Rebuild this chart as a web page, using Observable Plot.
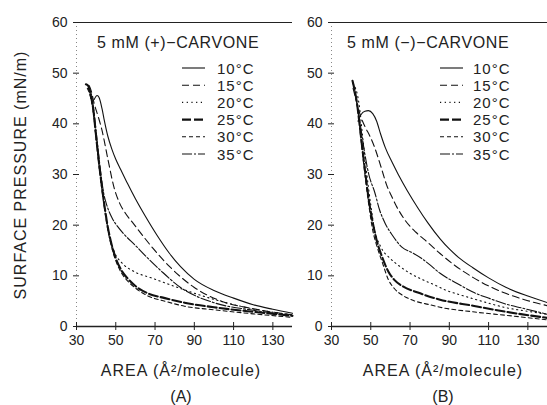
<!DOCTYPE html>
<html><head><meta charset="utf-8">
<script src="https://cdn.jsdelivr.net/npm/d3@7"></script>
<script src="https://cdn.jsdelivr.net/npm/@observablehq/plot@0.6"></script>
<style>
body{margin:0;background:#fff}
#wrap{position:relative;width:547px;height:405px;overflow:hidden;background:#fff}
#wrap svg{position:absolute;top:0;max-width:none}
</style>
</head><body><div id="wrap"></div>
<script>
// ---- data: [area (Å²/molecule), surface pressure (mN/m)] ----
const temps = ["10°C", "15°C", "20°C", "25°C", "30°C", "35°C"];
const xTicks = [30, 50, 70, 90, 110, 130];
const yTicks = [0, 10, 20, 30, 40, 50, 60];

// Panel A: 5 mM (+)-carvone
const A10 = [[39,44.8],[40.5,45.6],[41.5,45.2],[43,43],[44,41],[46,37.5],[48,35],[50,33],[52.5,31],[56,28.2],[60,25.2],[65,21.8],[71,18],[77,14.6],[83,11.8],[90,9.3],[100,7.1],[110,5.6],[120,4.3],[130,3.4],[140,2.6]];
const A15 = [[36.5,47.5],[37.5,46.5],[39,44],[41,41.5],[43,38.7],[46,33],[49,27.6],[52,24.3],[55,22.3],[59,20.3],[64,17.8],[69,15.4],[78,11.6],[90,7.7],[103,5.1],[120,3.5],[140,2.3]];
const A20 = [[36,47],[38,44],[40,37],[42,30],[44,24],[46,19.5],[49,15],[53,12.6],[58.6,11],[68.8,9.5],[83,7.5],[97,5.7],[117,3.7],[140,2.3]];
const A25 = [[34.8,47.8],[36,47.5],[37,46],[38.5,43],[40,37.5],[42,30.5],[44,24.5],[46,19.5],[48,16],[50,13.5],[53,11],[56,9.5],[60,8],[66,6.6],[75,5.6],[85,4.7],[100,3.8],[120,2.9],[140,2.1]];
const A30 = [[35.5,47],[37,45.5],[38.5,42.5],[40,37],[42,30],[44,24],[46,19],[48,15.5],[50,13],[53,10.5],[56,9],[60,7.6],[66,6.1],[75,5],[85,4],[100,3.3],[120,2.5],[140,1.8]];
const A35 = [[36,47.5],[38,45],[40,38.5],[42,31.5],[44,26],[45,24.5],[48,21.5],[51,19.7],[54,18.3],[60,16],[66,13.6],[73,11],[83,7.7],[100,4.7],[120,3.2],[140,2.2]];

// Panel B: 5 mM (-)-carvone
const B10 = [[43.5,40.5],[45,41.8],[47,42.5],[48.8,42.6],[51,42],[53,40.5],[55,38],[57.4,35.3],[61,32.3],[64,30],[68.6,26.8],[74,23.4],[79,20.5],[85.3,17.3],[90,15.3],[94.5,13.7],[102,11.6],[110,9.6],[119,7.7],[130,6],[140,4.7]];
const B15 = [[41,47],[43,44],[45,41.3],[47,39.5],[50,37.2],[52,35.3],[54,33],[56,30.5],[58,28],[60.5,25.8],[63,23.8],[67.6,20.9],[73,18.6],[79,16.6],[85.3,14.4],[93,12],[102,9.7],[110,8],[119,6.5],[130,5.1],[140,4.1]];
const B20 = [[41,48],[44,44],[46,37],[48,30],[50,24],[52,19],[55,15.8],[60,13.4],[65,11.8],[70,10.5],[76,9.3],[82,8.3],[88,7.2],[95,6.3],[102,5.5],[110,4.6],[119,3.7],[130,3],[140,2.4]];
const B25 = [[40.7,48.5],[43,44],[45,37.5],[47,31],[49,25],[51,20.5],[53,17],[56,13.5],[59,10.8],[62,9.2],[66,8],[74,6.7],[85.3,5.3],[102,4.1],[119,2.9],[140,1.7]];
const B30 = [[41,48],[43,44],[45,37],[47,30],[49,24],[51,19],[53,16],[56,12.5],[59,9.2],[62,7.5],[66,6.2],[72,5.1],[80,4.3],[85.3,3.8],[102,2.9],[119,2.2],[140,1.3]];
const B35 = [[42,46],[43,44],[45,39],[47,34],[49,30],[52,26.5],[54.5,23],[57.4,20.3],[61,18],[66,15.6],[71,14.6],[76,13.4],[80,12.2],[85.3,10.5],[94,8.5],[102,6.8],[110.7,5.5],[119,4.4],[127.5,3.6],[140,2.4]];

// ---- styles ----
const dashes = [null, "7,4", "1.2,3.5", "9,3", "4,3", "10,2,2,2"];
const widths = [1.1, 1.1, 1.1, 2.1, 1.1, 1.1];
const FONT = "Liberation Sans, Arial, sans-serif";

function panel({series, left, width, marginLeft, title, titleX, legLineX, legLabelX, xLabelX, tag, yLabel}) {
  const plot = Plot.plot({
    width, height: 405,
    marginLeft, marginRight: 0, marginTop: 22, marginBottom: 79,
    style: {fontFamily: FONT, fontSize: "14px", color: "#222", background: "transparent", overflow: "visible"},
    x: {domain: [30, 140], axis: null},
    y: {domain: [0, 60], axis: null},
    marks: [
      Plot.ruleX([30], {stroke: "#888", strokeDasharray: "1,3"}),
      Plot.ruleY([60], {stroke: "#222", strokeWidth: 1.2}),
      Plot.ruleY([0], {stroke: "#222", strokeWidth: 1.4}),
      Plot.axisX({ticks: xTicks, tickSize: 8, dy: -4, tickPadding: 5, fontSize: 14, label: null, stroke: "#222"}),
      Plot.axisY({ticks: yTicks, tickSize: 6, dx: 3, tickPadding: 6, fontSize: 14, label: null, stroke: "#222"}),
      ...series.map((s, i) => Plot.line(s, {
        x: d => d[0], y: d => d[1], stroke: "#111",
        strokeWidth: widths[i], strokeDasharray: dashes[i], curve: "monotone-x"
      }))
    ]
  });
  plot.style.left = left + "px";
  const svg = d3.select(plot);
  svg.append("text").attr("x", titleX).attr("y", 48)
    .attr("text-anchor", "start").attr("font-size", 16).attr("letter-spacing", 0.6)
    .attr("fill", "#222").text(title);
  temps.forEach((t, i) => {
    const y = 68 + i * 17.2;
    svg.append("line").attr("x1", legLineX).attr("x2", legLineX + 23)
      .attr("y1", y).attr("y2", y).attr("stroke", "#111")
      .attr("stroke-width", widths[i]).attr("stroke-dasharray", dashes[i]);
    svg.append("text").attr("x", legLabelX).attr("y", y + 5.5)
      .attr("text-anchor", "start").attr("font-size", 15).attr("letter-spacing", 1)
      .attr("fill", "#222").text(t);
  });
  svg.append("text").attr("x", xLabelX).attr("y", 376)
    .attr("text-anchor", "middle").attr("font-size", 16).attr("letter-spacing", 1)
    .attr("fill", "#222").text("AREA (Å²/molecule)");
  svg.append("text").attr("x", xLabelX).attr("y", 402)
    .attr("text-anchor", "middle").attr("font-size", 16)
    .attr("fill", "#222").text(tag);
  if (yLabel) {
    svg.append("text").attr("transform", "translate(26,175) rotate(-90)")
      .attr("text-anchor", "middle").attr("font-size", 16).attr("letter-spacing", 1)
      .attr("fill", "#222").text(yLabel);
  }
  document.getElementById("wrap").appendChild(plot);
}

panel({series: [A10, A15, A20, A25, A30, A35], left: 0, width: 292, marginLeft: 76,
  title: "5 mM (+)−CARVONE", titleX: 97, legLineX: 182, legLabelX: 217, xLabelX: 181,
  tag: "(A)", yLabel: "SURFACE PRESSURE (mN/m)"});
panel({series: [B10, B15, B20, B25, B30, B35], left: 292, width: 255, marginLeft: 39,
  title: "5 mM (−)−CARVONE", titleX: 55, legLineX: 148, legLabelX: 181, xLabelX: 151,
  tag: "(B)", yLabel: null});
</script>
</body></html>
